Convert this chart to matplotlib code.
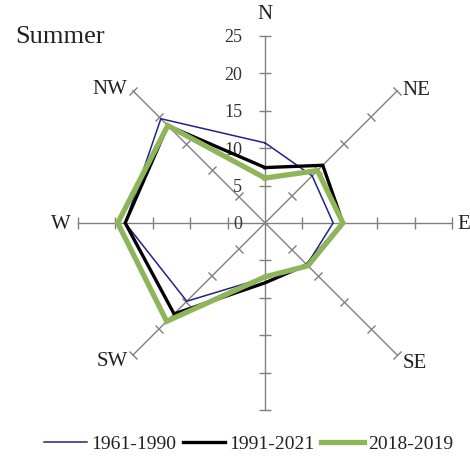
import numpy as np
import matplotlib
matplotlib.use('Agg')
import matplotlib.pyplot as plt
from matplotlib.markers import MarkerStyle
from matplotlib.transforms import Affine2D

directions = ['N', 'NE', 'E', 'SE', 'S', 'SW', 'W', 'NW']
s1961_1990 = [10.7, 8.9, 9.1, 7.9, 7.3, 14.8, 18.7, 19.7]
s1991_2021 = [7.4, 10.9, 10.4, 7.9, 8.0, 17.2, 18.7, 18.4]
s2018_2019 = [6.0, 9.9, 10.4, 8.1, 7.2, 18.6, 19.7, 18.4]
series_names = ['1961-1990', '1991-2021', '2018-2019']
rticks = [0, 5, 10, 15, 20, 25]
title = 'Summer'

plt.rcParams['font.family'] = ['Liberation Serif', 'DejaVu Serif']

fig = plt.figure(figsize=(4.7, 4.59), dpi=100)
ax = fig.add_axes([0.166, 0.1068, 0.796, 0.815], projection='polar')
ax.set_theta_zero_location('N')
ax.set_theta_direction(-1)
ax.set_ylim(0, 25)
ax.grid(False)
ax.spines['polar'].set_visible(False)
ax.set_xticks([])
ax.set_yticks([])
ax.patch.set_alpha(0)

angles = np.deg2rad(np.arange(len(directions)) * 45.0)
axis_col = '#808080'
for i, a in enumerate(angles):
    ax.plot([a, a], [0, rticks[-1]], color=axis_col, lw=1.0, zorder=1,
            clip_on=False)
    screen = 90 - i * 45
    m = MarkerStyle('_', transform=Affine2D().rotate_deg(screen - 90))
    ax.plot([a] * (len(rticks) - 1), rticks[1:], ls='none', marker=m,
            ms=8, mew=1.0, color=axis_col, zorder=1, clip_on=False)

# value labels along N spoke
for v in rticks:
    ax.annotate(str(v), xy=(0, v), xytext=(-23, -2), textcoords='offset pixels',
                ha='right', va='center', fontsize=13, color='#333333')

# direction labels (S hidden in reference)
lab_cfg = {
    'N': ((0, 21), 'center'),
    'NE': ((5, 0), 'left'),
    'E': ((5, -2), 'left'),
    'SE': ((5, -8), 'left'),
    'SW': ((-5, -6), 'right'),
    'W': ((-7, -2), 'right'),
    'NW': ((-6, 1), 'right'),
}
for i, d in enumerate(directions):
    if d not in lab_cfg:
        continue
    off, ha = lab_cfg[d]
    ax.annotate(d, xy=(angles[i], 25), xytext=off, textcoords='offset pixels',
                ha=ha, va='center', fontsize=15, color='#222222',
                annotation_clip=False)

theta_c = np.append(angles, angles[0])
series = [s1961_1990, s1991_2021, s2018_2019]
colors = ['#22228c', '#000000', '#8fb55a']
widths = [1.1, 2.4, 3.8]
handles = []
for vals, c, w, n in zip(series, colors, widths, series_names):
    h, = ax.plot(theta_c, np.append(vals, vals[0]), color=c, lw=w, label=n,
                 zorder=3, solid_joinstyle='miter', clip_on=False)
    handles.append(h)

fig.text(15 / 470, 1 - 37 / 459, title, fontsize=19, ha='left', va='center',
         color='#222222')

fig.legend(handles=handles, labels=series_names, loc='center',
           bbox_to_anchor=(0.529, 1 - 444 / 459), ncol=3, frameon=False,
           fontsize=14, handlelength=2.2, handletextpad=0.2,
           columnspacing=0.35, labelcolor='#222222', borderpad=0.1)

fig.savefig('out.png', dpi=100)
